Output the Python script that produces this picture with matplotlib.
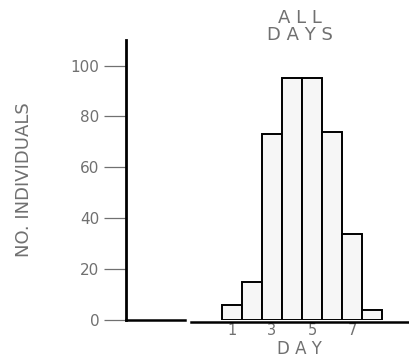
import matplotlib.pyplot as plt

days = [1, 2, 3, 4, 5, 6, 7, 8]
counts = [6, 15, 73, 95, 95, 74, 34, 4]
y_ticks = [0, 20, 40, 60, 80, 100]
x_ticks = [1, 3, 5, 7]

fig = plt.figure(figsize=(4.09, 3.58), dpi=100)
ax = fig.add_axes([0.308, 0.106, 0.692, 0.782])

gray = "#707070"
ax.bar(days, counts, width=1.0, color="#f6f6f6", edgecolor="black", linewidth=1.4, zorder=3)

ax.set_xlim(-4.3, 9.85)
ax.set_ylim(0, 110)

for s in ["top", "right", "bottom"]:
    ax.spines[s].set_visible(False)
ax.spines["left"].set_linewidth(2)
ax.spines["left"].set_color("black")

# baseline segments
ax.plot([-4.3, -1.35], [0, 0], color="black", lw=1.8, clip_on=False, zorder=4)
ax.plot([-1.05, 9.85], [-0.6, -0.6], color="black", lw=1.8, clip_on=False, zorder=4)

ax.set_yticks(y_ticks)
ax.set_xticks(x_ticks)
ax.tick_params(axis="y", length=16, width=0.9, color=gray, labelcolor=gray,
               labelsize=11, pad=3)
ax.tick_params(axis="x", length=0, labelcolor=gray, labelsize=10.5, pad=2)

ax.set_ylabel("NO. INDIVIDUALS", color=gray, fontsize=13, labelpad=27)
fig.text(0.733, 0.0, "D A Y", color=gray, fontsize=12, ha="center", va="bottom")
fig.text(0.733, 0.975, "A L L\nD A Y S", color=gray, fontsize=13, ha="center",
         va="top", linespacing=0.95)

fig.savefig("out.png", dpi=100)
